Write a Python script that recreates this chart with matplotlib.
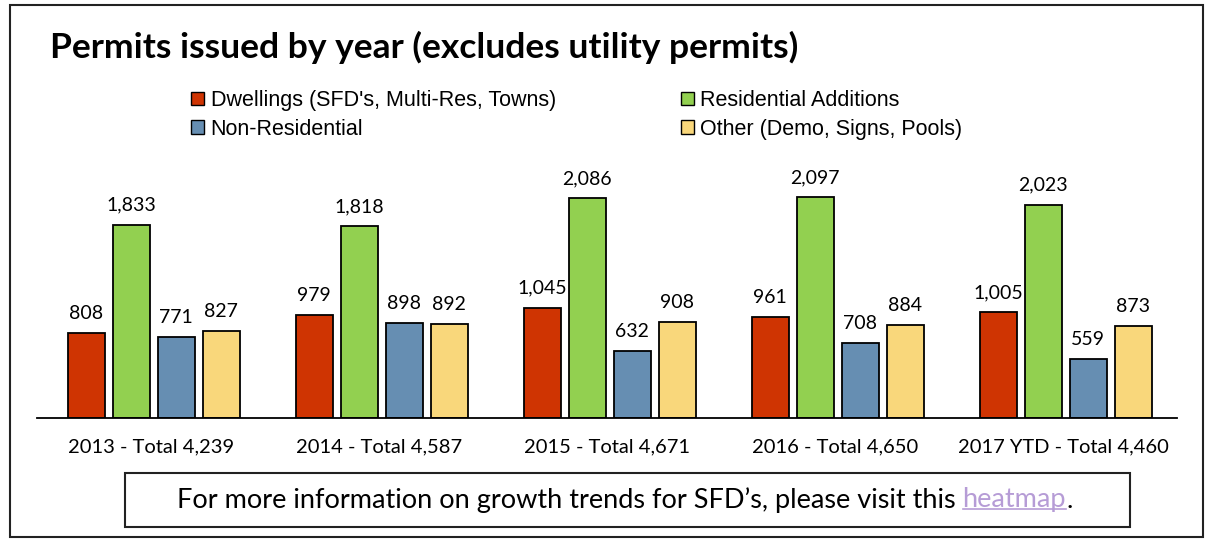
import numpy as np
import matplotlib
matplotlib.use('Agg')
import matplotlib.pyplot as plt
from matplotlib.patches import Rectangle
from matplotlib.lines import Line2D

years = ['2013 - Total 4,239', '2014 - Total 4,587', '2015 - Total 4,671',
         '2016 - Total 4,650', '2017 YTD - Total 4,460']
series = ["Dwellings (SFD's, Multi-Res, Towns)", 'Residential Additions',
          'Non-Residential', 'Other (Demo, Signs, Pools)']
dwellings = [808, 979, 1045, 961, 1005]
res_additions = [1833, 1818, 2086, 2097, 2023]
non_res = [771, 898, 632, 708, 559]
other = [827, 892, 908, 884, 873]
colors = ['#CF3402', '#92D050', '#668EB2', '#F9D77B']

W, H = 1212, 540
fig = plt.figure(figsize=(W / 100, H / 100), dpi=100, facecolor='white')

# outer frame
fig.add_artist(Rectangle((10 / W, 3 / H), 1193 / W, 532 / H, transform=fig.transFigure,
                         fill=False, edgecolor='#222222', lw=1.5))

fig.text(50 / W, 1 - 47 / H, 'Permits issued by year (excludes utility permits)',
         fontsize=25.5, fontweight='bold', family='Lato', ha='left', va='center')

ax = fig.add_axes([37 / W, 1 - 418 / H, 1140 / W, 268 / H])
x = np.arange(len(years))
bw, pitch = 0.162, 0.197
for i, vals in enumerate([dwellings, res_additions, non_res, other]):
    pos = x + (i - 1.5) * pitch + 0.012
    bars = ax.bar(pos, vals, bw, color=colors[i], edgecolor='black', lw=1.3, label=series[i])
    for b, v in zip(bars, vals):
        ax.annotate(f'{v:,}', (b.get_x() + b.get_width() / 2, v), xytext=(0, 8),
                    textcoords='offset points', ha='center', va='bottom',
                    fontsize=14, family='Lato')

ax.set_xlim(-0.5, len(years) - 0.5)
ax.set_ylim(0, 2543)
ax.set_xticks(x)
ax.set_xticklabels(years, fontsize=14.5, family='Lato')
ax.tick_params(axis='x', length=0, pad=15)
ax.set_yticks([])
for s in ['top', 'left', 'right']:
    ax.spines[s].set_visible(False)
ax.spines['bottom'].set_linewidth(1.3)

handles = [Rectangle((0, 0), 1, 1, facecolor=c, edgecolor='black', lw=1) for c in colors]
order = [0, 2, 1, 3]
leg = fig.legend([handles[k] for k in order], [series[k] for k in order], ncol=2,
                 loc='center left', bbox_to_anchor=(172 / W, 1 - 115 / H), frameon=False,
                 prop={'family': 'Liberation Sans', 'size': 15.5}, handlelength=0.6,
                 handleheight=0.6, handletextpad=0.3, columnspacing=5.8, labelspacing=0.35)

# bottom note box
fig.add_artist(Rectangle((125 / W, 1 - 527 / H), 1005 / W, 54 / H, transform=fig.transFigure,
                         fill=False, edgecolor='#222222', lw=1.5))
ty = 1 - 500 / H
fs = 19.5
t1 = fig.text(177 / W, ty, 'For more information on growth trends for SFD\u2019s, please visit this ',
              fontsize=fs, family='Lato', ha='left', va='center')
fig.canvas.draw()
r = fig.canvas.get_renderer()
e1 = t1.get_window_extent(r)
t2 = fig.text(e1.x1 / W, ty, 'heatmap', fontsize=fs, family='Lato', color='#B69CD6',
              ha='left', va='center')
e2 = t2.get_window_extent(r)
fig.text(e2.x1 / W, ty, '.', fontsize=fs, family='Lato', ha='left', va='center')
fig.add_artist(Line2D([e2.x0 / W, e2.x1 / W], [(e2.y0 + 4) / H] * 2, transform=fig.transFigure,
                      color='#B69CD6', lw=1.2))

fig.savefig('out.png', dpi=100, facecolor='white')
